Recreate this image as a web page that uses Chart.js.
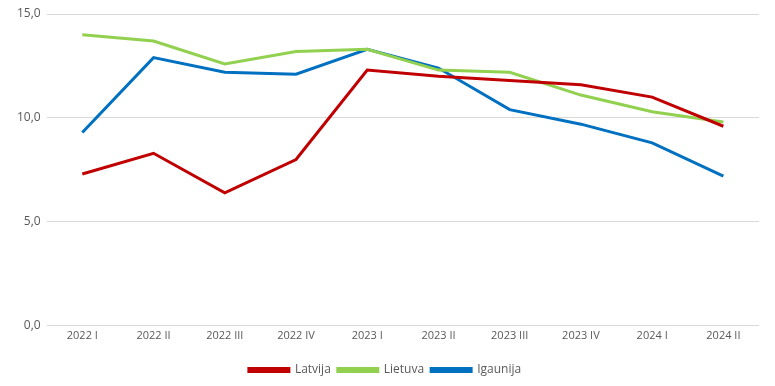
<!DOCTYPE html>
<html>
<head>
<meta charset="utf-8">
<script src="https://cdn.jsdelivr.net/npm/chart.js@4/dist/chart.umd.min.js"></script>
<style>
  html, body { margin: 0; padding: 0; background: #fff; }
  #wrap { width: 775px; height: 386px; position: relative; }
</style>
</head>
<body>
<div id="wrap"><canvas id="chart"></canvas></div>
<script>
const categories = ['2022 I', '2022 II', '2022 III', '2022 IV', '2023 I', '2023 II', '2023 III', '2023 IV', '2024 I', '2024 II'];
const latvija = [7.3, 8.3, 6.4, 8.0, 12.3, 12.0, 11.8, 11.6, 11.0, 9.6];
const lietuva = [14.0, 13.7, 12.6, 13.2, 13.3, 12.3, 12.2, 11.1, 10.3, 9.8];
const igaunija = [9.3, 12.9, 12.2, 12.1, 13.3, 12.4, 10.4, 9.7, 8.8, 7.2];
const yTicks = [0, 5, 10, 15];

const FONT = "'Open Sans', 'Liberation Sans', sans-serif";

const mkSeries = (label, data, color) => ({
  label, data,
  borderColor: color, backgroundColor: color,
  borderWidth: 3, pointRadius: 0, tension: 0, fill: false
});

new Chart(document.getElementById('chart').getContext('2d'), {
  type: 'line',
  data: {
    labels: categories,
    datasets: [
      mkSeries('Latvija', latvija, '#c00000'),
      mkSeries('Lietuva', lietuva, '#92d050'),
      mkSeries('Igaunija', igaunija, '#0070c0')
    ]
  },
  options: {
    responsive: true, maintainAspectRatio: false, animation: false,
    layout: { padding: { left: 11, right: 16, top: 14, bottom: 0 } },
    scales: {
      x: {
        offset: true,
        grid: { display: false, drawTicks: false },
        border: { display: false },
        afterFit: axis => { axis.height += 12; },
        ticks: { color: '#595959', font: { family: FONT, size: 11 }, maxRotation: 0, padding: 3 }
      },
      y: {
        min: 0, max: 15,
        afterBuildTicks: axis => { axis.ticks = yTicks.map(v => ({ value: v })); },
        grid: { color: '#d9d9d9', drawTicks: false },
        border: { display: false },
        ticks: {
          color: '#595959', font: { family: FONT, size: 12 }, padding: 6,
          callback: v => v.toFixed(1).replace('.', ',')
        }
      }
    },
    plugins: {
      legend: {
        position: 'bottom',
        labels: { color: '#595959', font: { family: FONT, size: 12 }, boxWidth: 40, boxHeight: 3, padding: 7 }
      },
      tooltip: { enabled: false }
    }
  }
});
</script>
</body>
</html>
